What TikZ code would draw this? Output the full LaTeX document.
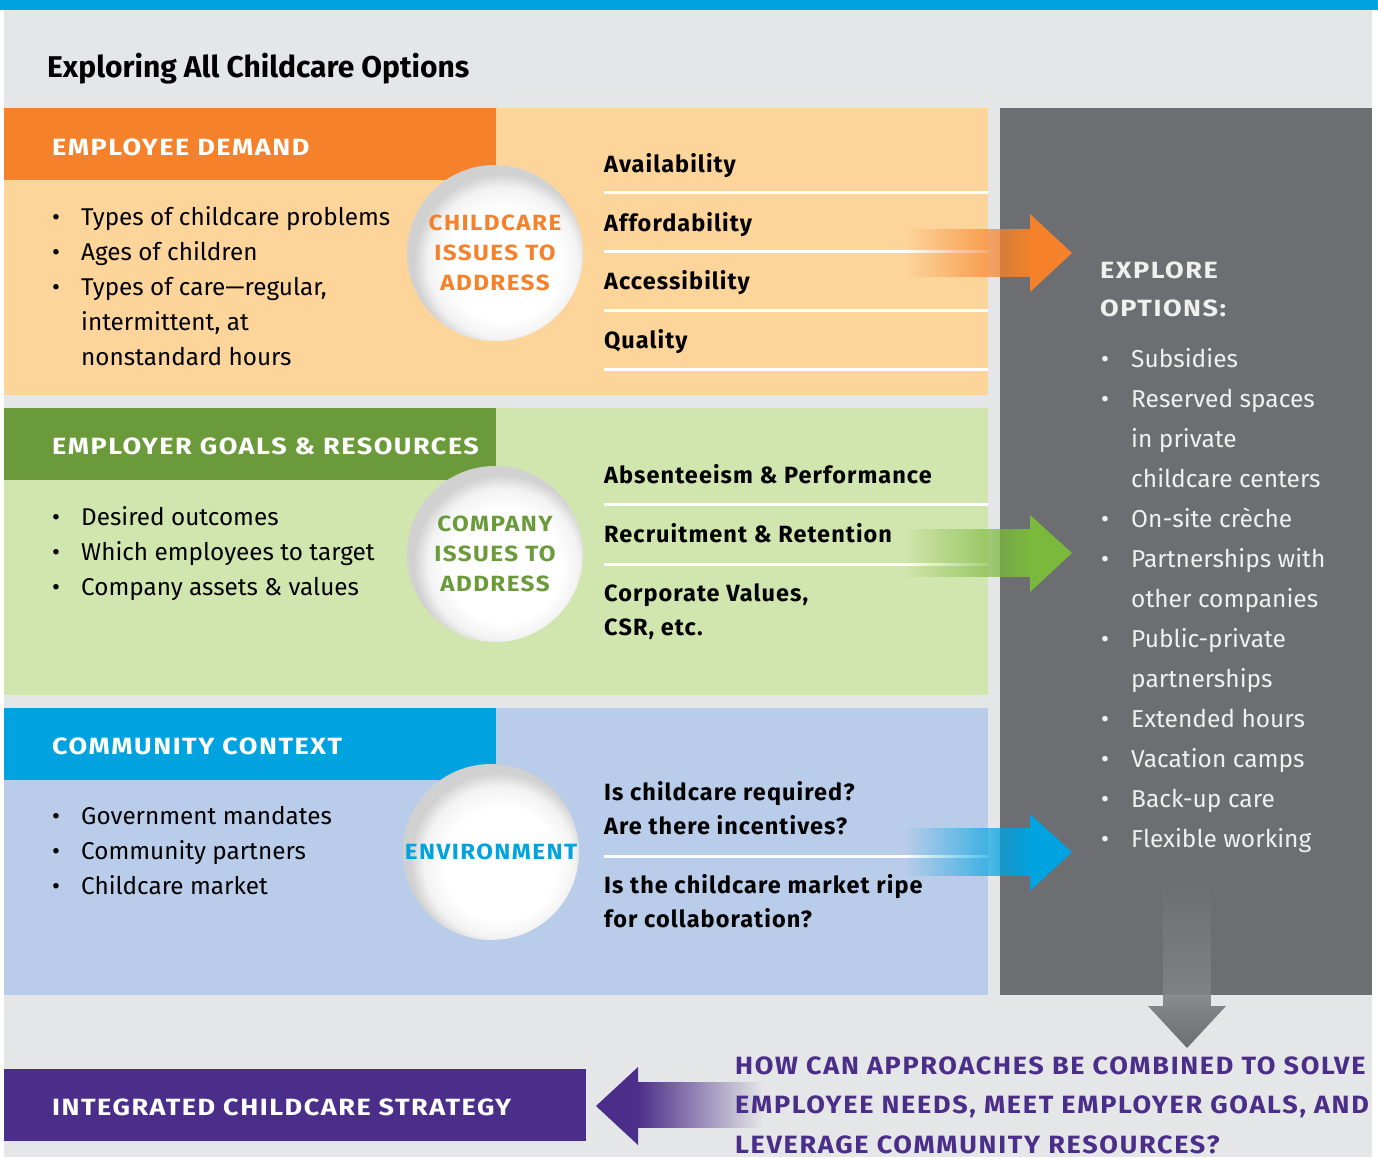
\documentclass[tikz,border=0pt]{standalone}
\usepackage{fontspec}
\setmainfont{Fira Sans}
\newfontfamily\hdrspaced{Fira Sans}[FakeStretch=1.15, LetterSpace=6.5]
\newfontfamily\bubspaced{Fira Sans}[FakeStretch=1.1, LetterSpace=6.5]
\newfontfamily\qspaced{Fira Sans}[FakeStretch=1.08, LetterSpace=6.8]
\newfontfamily\issuespaced{Fira Sans}[LetterSpace=4.5]
\usetikzlibrary{fadings}
\definecolor{topblue}{HTML}{00A3E0}
\definecolor{bggrey}{HTML}{E5E6E8}
\definecolor{ordark}{HTML}{F5822A}
\definecolor{orlight}{HTML}{FDD59B}
\definecolor{grdark}{HTML}{6A9A3A}
\definecolor{grlight}{HTML}{D1E5AE}
\definecolor{grarrow}{HTML}{7BB93D}
\definecolor{bllight}{HTML}{B9CDEA}
\definecolor{panel}{HTML}{6D6E71}
\definecolor{shaftgrey}{HTML}{818387}
\definecolor{purple}{HTML}{4B2E89}
\definecolor{paneltext}{HTML}{F0F0F0}
\tikzfading[name=fadein, left color=transparent!100, right color=transparent!0]
\tikzfading[name=fadeout, left color=transparent!0, right color=transparent!100]
\tikzfading[name=fadedown, top color=transparent!100, bottom color=transparent!0]
\pgfdeclareradialshading{bubble}{\pgfpoint{4bp}{-5bp}}{color(0bp)=(white); color(16bp)=(white); color(21.5bp)=(black!5); color(25bp)=(black!18); color(50bp)=(black!18)}
\tikzset{
  title/.style={anchor=base west, inner sep=0pt, font=\fontsize{30}{34}\selectfont\bfseries},
  hdr/.style={anchor=base west, inner sep=0pt, text=white, font=\fontsize{23.5}{28}\selectfont\hdrspaced\bfseries},
  listtext/.style={anchor=base west, inner sep=0pt, font=\fontsize{24.3}{35}\selectfont},
  issue/.style={anchor=base west, inner sep=0pt, font=\fontsize{23.5}{34}\selectfont\issuespaced\bfseries},
  bubble/.style={circle, inner sep=0pt, minimum size=176pt, shading=bubble, align=center, font=\fontsize{22}{30}\selectfont\bubspaced\bfseries},
  panellist/.style={anchor=base west, inner sep=0pt, text=paneltext, font=\fontsize{24.5}{40}\selectfont},
  question/.style={anchor=base west, inner sep=0pt, text=purple, font=\fontsize{25}{39.5}\selectfont\qspaced\bfseries},
}
\begin{document}
\begin{tikzpicture}[x=1pt,y=-1pt]
\useasboundingbox (0,0) rectangle (1378,1157);
\fill[white] (0,0) rectangle (1378,1157);
\fill[bggrey] (4,0) rectangle (1372,1157);
\fill[topblue] (0,0) rectangle (1378,10);
\node[title] (title) at (47,77) {Exploring All Childcare Options};

% bands
\fill[orlight] (4,108) rectangle (988,395);
\fill[ordark] (4,108) rectangle (496,180);
\fill[grlight] (4,408) rectangle (988,695);
\fill[grdark] (4,408) rectangle (496,480);
\fill[bllight] (4,708) rectangle (988,995);
\fill[topblue] (4,708) rectangle (496,780);
\fill[panel] (1000,108) rectangle (1372,995);

\node[hdr] (h1) at (52,155) {EMPLOYEE DEMAND};
\node[hdr] (h2) at (52,454) {EMPLOYER GOALS \& RESOURCES};
\node[hdr] (h3) at (52,754) {COMMUNITY CONTEXT};

% left lists
\node[listtext] (l1) at (52,225) {\begin{tabular}[t]{@{}p{29pt}@{}l@{}}
\textbullet & Types of childcare problems\\
\textbullet & Ages of children\\
\textbullet & Types of care---regular,\\
 & intermittent, at\\
 & nonstandard hours\end{tabular}};
\node[listtext] (l2) at (52,525) {\begin{tabular}[t]{@{}p{29pt}@{}l@{}}
\textbullet & Desired outcomes\\
\textbullet & Which employees to target\\
\textbullet & Company assets \& values\end{tabular}};
\node[listtext] (l3) at (52,824) {\begin{tabular}[t]{@{}p{29pt}@{}l@{}}
\textbullet & Government mandates\\
\textbullet & Community partners\\
\textbullet & Childcare market\end{tabular}};

% separators
\foreach \yy in {192,251,310,369,504,564,856}
  \draw[white, line width=3pt] (604,\yy) -- (988,\yy);

% issues
\node[issue] (i1) at (604,172) {Availability};
\node[issue] (i2) at (604,231) {Affordability};
\node[issue] (i3) at (604,289) {Accessibility};
\node[issue] (i4) at (604,348) {Quality};
\node[issue] (i5) at (604,483) {Absenteeism \& Performance};
\node[issue] (i6) at (604,542) {Recruitment \& Retention};
\node[issue] (i7) at (604,601) {\begin{tabular}[t]{@{}l@{}}Corporate Values,\\CSR, etc.\end{tabular}};
\node[issue] (i8) at (604,800) {\begin{tabular}[t]{@{}l@{}}Is childcare required?\\Are there incentives?\end{tabular}};
\node[issue] (i9) at (604,893) {\begin{tabular}[t]{@{}l@{}}Is the childcare market ripe\\for collaboration?\end{tabular}};

% bubbles
\node[bubble, text=ordark] (c1) at (495,253) {CHILDCARE\\ISSUES TO\\ADDRESS};
\node[bubble, text=grdark] (c2) at (495,554) {COMPANY\\ISSUES TO\\ADDRESS};
\node[bubble, text=topblue] (c3) at (491,852) {ENVIRONMENT};

% arrows to panel
\fill[ordark, path fading=fadein] (905,229) rectangle (1031,277);
\fill[ordark] (1030,214) -- (1072,253) -- (1030,292) -- cycle;
\fill[grarrow, path fading=fadein] (905,529) rectangle (1031,577);
\fill[grarrow] (1030,515) -- (1072,553) -- (1030,592) -- cycle;
\fill[topblue, path fading=fadein] (905,828) rectangle (1031,876);
\fill[topblue] (1030,814) -- (1072,852) -- (1030,891) -- cycle;

% panel
\node[hdr, text=paneltext] (ex) at (1100,278) {\begin{tabular}[t]{@{}l@{}}EXPLORE\\[10pt]OPTIONS:\end{tabular}};
\node[panellist] (pl) at (1101,367) {\begin{tabular}[t]{@{}p{30pt}@{}l@{}}
\textbullet & Subsidies\\
\textbullet & Reserved spaces\\
 & in private\\
 & childcare centers\\
\textbullet & On-site crèche\\
\textbullet & Partnerships with\\
 & other companies\\
\textbullet & Public-private\\
 & partnerships\\
\textbullet & Extended hours\\
\textbullet & Vacation camps\\
\textbullet & Back-up care\\
\textbullet & Flexible working\end{tabular}};

% down arrow
\fill[shaftgrey, path fading=fadedown] (1163,878) rectangle (1211,1007);
\shade[top color=shaftgrey, bottom color=panel] (1148,1006) -- (1226,1006) -- (1187,1048) -- cycle;

% bottom
\fill[purple] (4,1069) rectangle (586,1141);
\node[hdr] (strat) at (52,1115) {INTEGRATED CHILDCARE STRATEGY};
\fill[purple, path fading=fadeout] (637,1082) rectangle (762,1128);
\fill[purple] (638,1067) -- (596,1106) -- (638,1145) -- cycle;
\node[question] (q) at (735,1074) {\begin{tabular}[t]{@{}l@{}}HOW CAN APPROACHES BE COMBINED TO SOLVE\\EMPLOYEE NEEDS, MEET EMPLOYER GOALS, AND\\LEVERAGE COMMUNITY RESOURCES?\end{tabular}};
\end{tikzpicture}
\end{document}
